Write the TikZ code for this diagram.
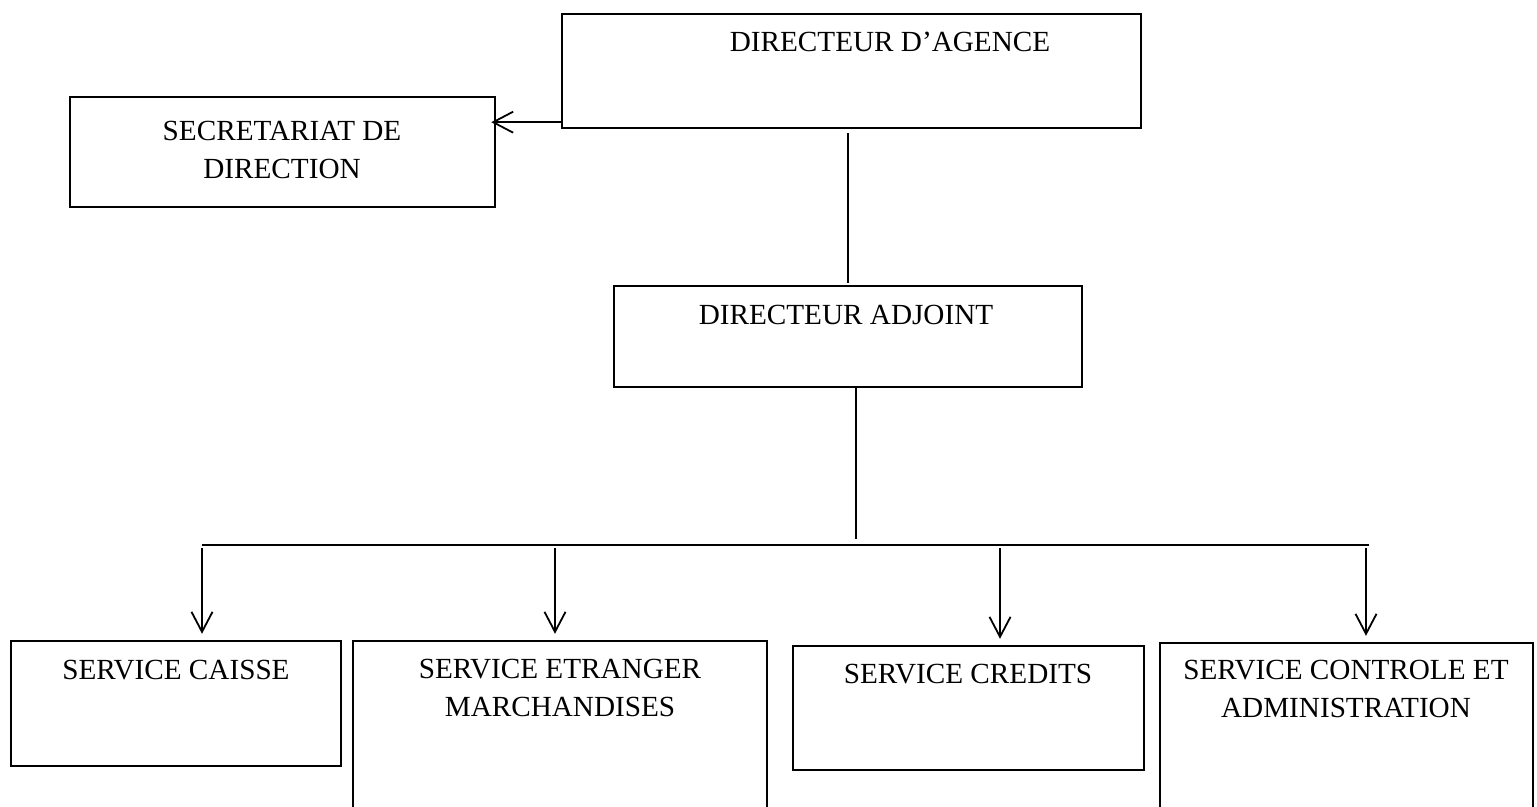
\documentclass[tikz,border=0pt]{standalone}
\usepackage{fontspec}
\setmainfont{Liberation Serif}
\usetikzlibrary{arrows.meta,fit}

\tikzset{
  box/.style={draw,line width=1.2pt,inner sep=0pt},
  lbl/.style={anchor=north,inner sep=0pt,align=center,font=\fontsize{14.6}{19}\selectfont},
  link/.style={line width=0.7pt},
  arrow/.style={line width=0.9pt,-{Straight Barb[length=10pt,width=10.5pt]}},
}

\begin{document}
\begin{tikzpicture}[x=0.5pt,y=-0.5pt]
  \useasboundingbox (0,0) rectangle (1537,807);
  % boxes (pixel corners)
  \node[box,fit={(562,14) (1141,128)}] (agence) {};
  \node[box,fit={(70,97) (495,207)}] (secretariat) {};
  \node[box,fit={(614,286) (1082,387)}] (adjoint) {};
  \node[box,fit={(11,641) (341,766)}] (caisse) {};
  \node[box,fit={(353,641) (767,830)}] (etranger) {};
  \node[box,fit={(793,646) (1144,770)}] (credits) {};
  \node[box,fit={(1160,643) (1533,830)}] (controle) {};
  % texts
  \node[lbl] (agence-t) at (890,32) {DIRECTEUR D’AGENCE};
  \node[lbl] (secretariat-t) at (282,121) {SECRETARIAT DE\\DIRECTION};
  \node[lbl] (adjoint-t) at (846,305) {DIRECTEUR ADJOINT};
  \node[lbl] (caisse-t) at (176,660) {SERVICE CAISSE};
  \node[lbl] (etranger-t) at (560,659) {SERVICE ETRANGER\\MARCHANDISES};
  \node[lbl] (credits-t) at (968,664) {SERVICE CREDITS};
  \node[lbl] (controle-t) at (1346,660) {SERVICE CONTROLE ET\\ADMINISTRATION};
  % top links
  \coordinate (from-agence) at ([yshift=3.5pt]agence.south west);
  \draw[arrow,shorten >=-2.5pt] (from-agence) -- (from-agence -| secretariat.east);
  \draw[link,shorten <=2pt,shorten >=1pt] (agence.south -| adjoint.north) -- (adjoint.north);
  \coordinate (bus) at (856,545);
  \draw[arrow,-,shorten >=3pt] (bus |- adjoint.south) -- (bus);
  % services
  \foreach \n/\x in {caisse/202,etranger/555,credits/1000,controle/1366}
    \coordinate (drop-\n) at (\x,545);
  \draw[line width=1pt] (drop-caisse) -- ([xshift=1.5pt]drop-controle);
  \foreach \n in {caisse,etranger,credits,controle}
    \draw[arrow,shorten <=1.5pt,shorten >=3pt] (drop-\n) -- (drop-\n |- \n.north);
\end{tikzpicture}
\end{document}
